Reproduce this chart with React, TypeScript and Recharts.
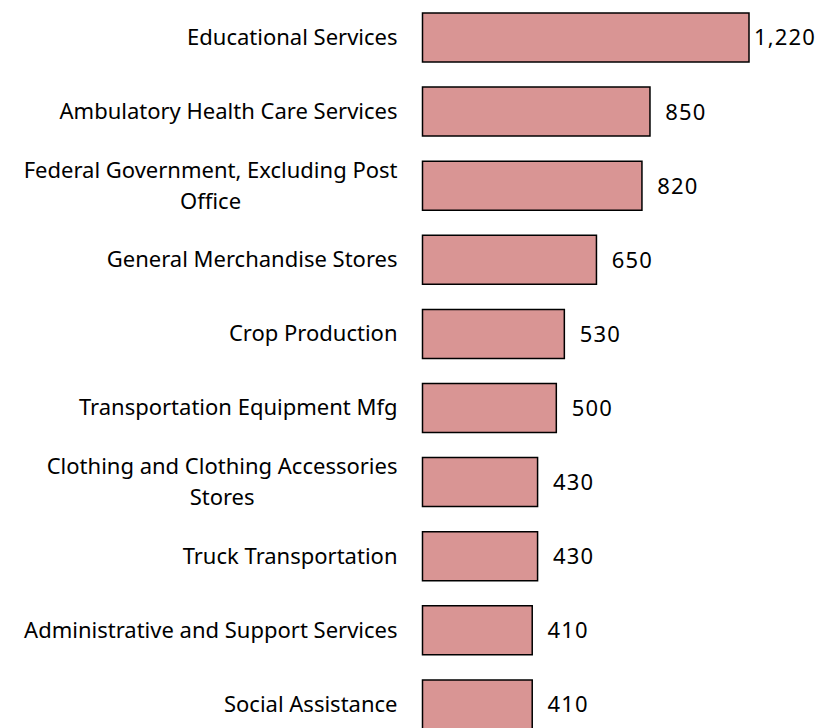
import { Bar, BarChart, LabelList, XAxis, YAxis } from 'recharts';

const industries = [
  'Educational Services',
  'Ambulatory Health Care Services',
  'Federal Government, Excluding Post Office',
  'General Merchandise Stores',
  'Crop Production',
  'Transportation Equipment Mfg',
  'Clothing and Clothing Accessories Stores',
  'Truck Transportation',
  'Administrative and Support Services',
  'Social Assistance',
];

const jobs = [1220, 850, 820, 650, 530, 500, 430, 430, 410, 410];

// wrapped lines for the long category names
const wrapped: Record<string, string[]> = {
  'Federal Government, Excluding Post Office': ['Federal Government, Excluding Post', 'Office'],
  'Clothing and Clothing Accessories Stores': ['Clothing and Clothing Accessories', 'Stores'],
};

const data = industries.map((name, i) => ({ name, value: jobs[i] }));

const FONT = '"Noto Sans", sans-serif';
const FONT_SIZE = 22;

let canvasCtx: CanvasRenderingContext2D | null = null;
function textWidth(text: string) {
  if (!canvasCtx) canvasCtx = document.createElement('canvas').getContext('2d');
  if (!canvasCtx) return text.length * 10;
  canvasCtx.font = `${FONT_SIZE}px "Noto Sans"`;
  return canvasCtx.measureText(text).width;
}

function CategoryTick({ x, y, payload }: any) {
  const right = x - 17;
  const lines = wrapped[payload.value] ?? [payload.value];
  if (lines.length === 1) {
    return (
      <text x={right} y={y} dy="0.36em" textAnchor="end" fontFamily={FONT} fontSize={FONT_SIZE} fill="#000">
        {lines[0]}
      </text>
    );
  }
  const w = Math.max(...lines.map(textWidth));
  const cx = right - w / 2;
  const gap = 31;
  const top = y - ((lines.length - 1) * gap) / 2;
  return (
    <text textAnchor="middle" fontFamily={FONT} fontSize={FONT_SIZE} fill="#000">
      {lines.map((ln, i) => (
        <tspan key={i} x={cx} y={top + i * gap} dy="0.36em">
          {ln}
        </tspan>
      ))}
    </text>
  );
}

// value label centred a fixed distance past the bar end
function ValueLabel({ x, y, width, height, value }: any) {
  return (
    <text
      x={x + width + 36}
      y={y + height / 2}
      dy="0.36em"
      textAnchor="middle"
      fontFamily={FONT}
      fontSize={FONT_SIZE}
      letterSpacing={1.2}
      fill="#000"
    >
      {Number(value).toLocaleString('en-US')}
    </text>
  );
}

export default function App() {
  return (
    <div style={{ position: 'fixed', left: 0, top: 0, width: 824, height: 728, overflow: 'hidden', background: '#fff' }}>
      <BarChart
        width={824}
        height={741}
        data={data}
        layout="vertical"
        margin={{ top: 0, right: 75, bottom: 0, left: 0 }}
      >
        <XAxis type="number" domain={[0, 1220]} hide />
        <YAxis
          type="category"
          dataKey="name"
          width={422.5}
          axisLine={false}
          tickLine={false}
          tick={<CategoryTick />}
          interval={0}
        />
        <Bar dataKey="value" fill="#D99594" stroke="#000" strokeWidth={1.5} barSize={49} isAnimationActive={false}>
          <LabelList dataKey="value" content={<ValueLabel />} />
        </Bar>
      </BarChart>
    </div>
  );
}
